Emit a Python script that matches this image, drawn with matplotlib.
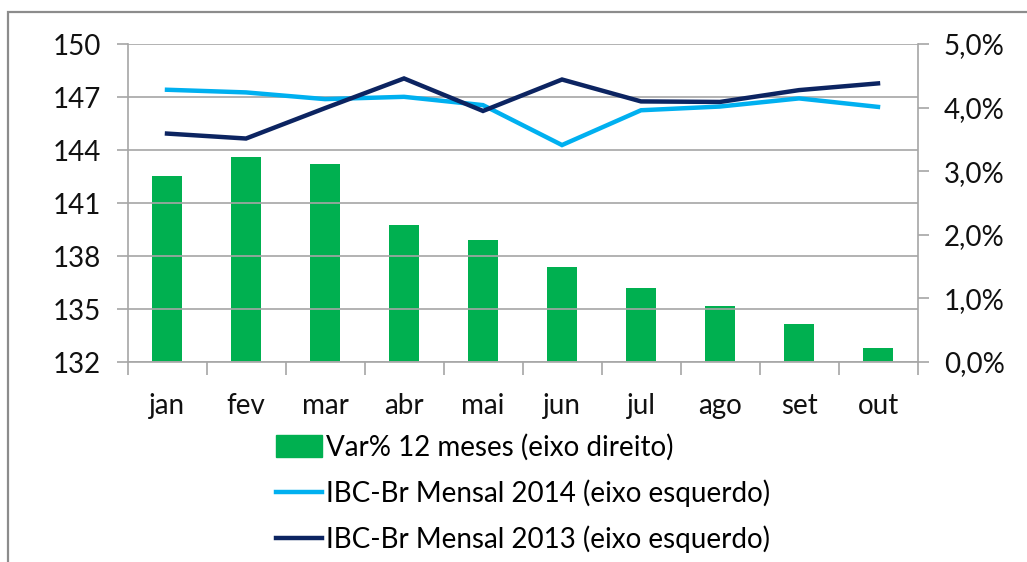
import matplotlib
matplotlib.use("Agg")
import matplotlib.pyplot as plt
from matplotlib.ticker import FuncFormatter, MultipleLocator
from matplotlib.patches import Rectangle
import numpy as np

plt.rcParams['font.family'] = ['Lato', 'DejaVu Sans']

meses = ['jan', 'fev', 'mar', 'abr', 'mai', 'jun', 'jul', 'ago', 'set', 'out']
var12 = [2.93, 3.22, 3.11, 2.16, 1.92, 1.50, 1.17, 0.88, 0.60, 0.22]
ibc2014 = [147.41, 147.26, 146.88, 147.01, 146.54, 144.28, 146.25, 146.46, 146.92, 146.44]
ibc2013 = [144.93, 144.65, 146.37, 148.05, 146.21, 147.99, 146.75, 146.72, 147.39, 147.77]

verde = '#00b050'
azul_claro = '#00b0f0'
azul_escuro = '#0c2461'
cinza = '#a6a6a6'
fs = 20

fig = plt.figure(figsize=(10.27, 5.62), dpi=100)
# moldura externa
fig.patches.append(Rectangle((8/1027, -0.1), 1.2, 1 - 12/562 + 0.1, transform=fig.transFigure,
                             fill=False, edgecolor='#8c8c8c', lw=1.6))

ax = fig.add_axes([127.5/1027, 1 - 362/562, 790/1027, 318/562])
ax2 = ax.twinx()

x = np.arange(len(meses))

# barras no eixo direito
ax2.bar(x, var12, width=0.39, color=verde, zorder=2)
ax2.set_ylim(0, 5)
ax2.yaxis.set_major_locator(MultipleLocator(1))
ax2.yaxis.set_major_formatter(FuncFormatter(lambda v, p: f"{v:.1f}%".replace('.', ',')))

# linhas no eixo esquerdo (por cima das barras)
ax.set_zorder(ax2.get_zorder() + 1)
ax.patch.set_visible(False)
l14, = ax.plot(x, ibc2014, color=azul_claro, lw=3.2, solid_joinstyle='miter')
l13, = ax.plot(x, ibc2013, color=azul_escuro, lw=3.2, solid_joinstyle='miter')
ax.set_ylim(132, 150)
ax.set_yticks(np.arange(132, 151, 3))
ax.set_xlim(-0.5, len(meses) - 0.5)
ax.yaxis.grid(True, color=cinza, lw=1.2)
ax.set_axisbelow(True)

ax.set_xticks(x)
ax.set_xticklabels(meses)
ax.set_xticks(np.arange(-0.5, len(meses)), minor=True)
ax.tick_params(axis='x', which='major', length=0, pad=22, labelsize=fs, colors='#111111')
ax.tick_params(axis='x', which='minor', length=9, width=1.2, color=cinza)
ax.tick_params(axis='y', length=8, width=1.2, color=cinza, pad=11, labelsize=fs, labelcolor='#111111')
ax2.tick_params(axis='y', length=8, width=1.2, color=cinza, pad=11, labelsize=fs, labelcolor='#111111')

for a in (ax, ax2):
    a.spines['top'].set_visible(False)
    for s in ['left', 'right', 'bottom']:
        a.spines[s].set_color(cinza)
        a.spines[s].set_linewidth(1.2)
ax.spines['right'].set_visible(False)
ax2.spines['left'].set_visible(False)
ax2.spines['bottom'].set_visible(False)

handles = [Rectangle((0, 0), 1, 1, color=verde), l14, l13]
labels = ['Var% 12 meses (eixo direito)',
          'IBC-Br Mensal 2014 (eixo esquerdo)',
          'IBC-Br Mensal 2013 (eixo esquerdo)']
fig.legend(handles, labels, loc='upper center', bbox_to_anchor=(523/1027, 1 - 423/562),
           frameon=False, fontsize=fs, handlelength=1.65, handleheight=0.85,
           handletextpad=0.15, labelspacing=0.66, borderaxespad=0)

fig.savefig('out.png', dpi=100)
